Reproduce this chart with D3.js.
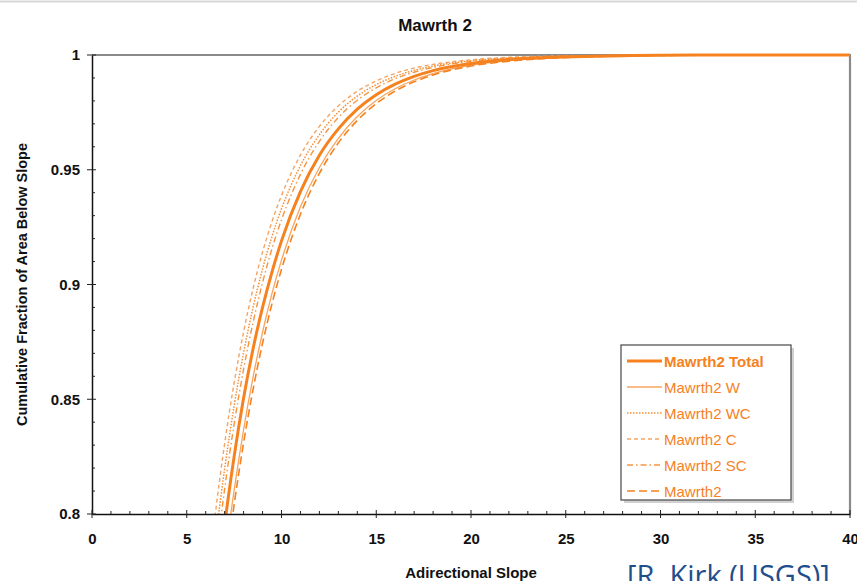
<!DOCTYPE html>
<html>
<head>
<meta charset="utf-8">
<script src="https://cdn.jsdelivr.net/npm/d3@7"></script>
<style>
  html, body { margin: 0; padding: 0; background: #fff; }
  svg { display: block; font-family: "Liberation Sans", Arial, sans-serif; }
</style>
</head>
<body>
<svg id="chart" width="857" height="581"></svg>
<script>
// Slope grid (degrees) at which the cumulative fractions are sampled
const slopes = [6, 6.5, 7, 7.5, 8, 8.5, 9, 9.5, 10, 11, 12, 13, 14, 15, 16, 17, 18, 20, 22, 24, 26, 28, 30, 35, 40];

// Cumulative fraction of area below each slope, per study area
const totalValues    = [0.7178, 0.758, 0.795, 0.8250, 0.8505, 0.872, 0.8900, 0.9055, 0.9190, 0.9405, 0.9563, 0.9678, 0.9764, 0.9827, 0.9873, 0.9907, 0.9932, 0.9963, 0.9980, 0.9989, 0.9994, 0.9997, 0.9999, 1.0, 1.0];
const wValues        = [0.705, 0.7436, 0.7795, 0.8103, 0.8368, 0.8596, 0.8792, 0.8961, 0.9106, 0.9339, 0.9510, 0.9637, 0.9732, 0.9802, 0.9853, 0.9891, 0.9919, 0.9956, 0.9976, 0.9987, 0.9993, 0.9996, 0.9998, 1.0, 1.0];
const wcValues       = [0.749, 0.7875, 0.8197, 0.8471, 0.8703, 0.8900, 0.9068, 0.9210, 0.9330, 0.9518, 0.9653, 0.9751, 0.9821, 0.9871, 0.9907, 0.9933, 0.9952, 0.9975, 0.9987, 0.9993, 0.9996, 0.9998, 0.9999, 1.0, 1.0];
const cValues        = [0.7625, 0.7995, 0.8307, 0.8571, 0.8794, 0.8982, 0.9141, 0.9275, 0.9388, 0.9564, 0.9689, 0.9778, 0.9842, 0.9887, 0.9920, 0.9943, 0.9959, 0.9979, 0.9990, 0.9995, 0.9997, 0.9999, 1.0, 1.0, 1.0];
const scValues       = [0.7387, 0.7777, 0.8109, 0.8391, 0.8631, 0.8835, 0.9008, 0.9157, 0.9282, 0.9480, 0.9624, 0.9728, 0.9803, 0.9857, 0.9897, 0.9925, 0.9946, 0.9972, 0.9985, 0.9992, 0.9996, 0.9998, 0.9999, 1.0, 1.0];
const mawrth2Values  = [0.697, 0.7363, 0.7728, 0.8041, 0.8310, 0.8543, 0.8744, 0.8917, 0.9066, 0.9306, 0.9484, 0.9617, 0.9715, 0.9788, 0.9843, 0.9883, 0.9913, 0.9952, 0.9973, 0.9985, 0.9992, 0.9996, 0.9998, 1.0, 1.0];

const seriesNames = ["Mawrth2 Total", "Mawrth2 W", "Mawrth2 WC", "Mawrth2 C", "Mawrth2 SC", "Mawrth2"];

// Axis ticks
const xTicks = [0, 5, 10, 15, 20, 25, 30, 35, 40];
const yTicks = [0.8, 0.85, 0.9, 0.95, 1];
const yTickLabels = ["0.8", "0.85", "0.9", "0.95", "1"];

const orange = "#f5821f";

const series = [
  { name: seriesNames[0], values: totalValues,   width: 3,   dash: null,        color: orange,    opacity: 1,    bold: true },
  { name: seriesNames[1], values: wValues,       width: 1.3, dash: null,        color: "#f8a45e", opacity: 1,    bold: false },
  { name: seriesNames[2], values: wcValues,      width: 1.5, dash: "1.5,1.5",   color: orange,    opacity: 0.9,  bold: false },
  { name: seriesNames[3], values: cValues,       width: 1.4, dash: "4,3",       color: "#f39a55", opacity: 0.9,  bold: false },
  { name: seriesNames[4], values: scValues,      width: 1.4, dash: "6,3,1.5,3", color: orange,    opacity: 0.85, bold: false },
  { name: seriesNames[5], values: mawrth2Values, width: 1.6, dash: "8,4",       color: orange,    opacity: 1,    bold: false }
];

const svg = d3.select("#chart");
const margin = { left: 92, right: 7, top: 55, bottom: 67 };
const W = 857, H = 581;

const x = d3.scaleLinear().domain([0, 40]).range([margin.left, W - margin.right]);
const y = d3.scaleLinear().domain([0.8, 1]).range([H - margin.bottom, margin.top]);

// faint border line at the very top of the page
svg.append("line").attr("x1", 0).attr("x2", W).attr("y1", 1.5).attr("y2", 1.5)
  .attr("stroke", "#d8d8d8").attr("stroke-width", 2);

// Title
svg.append("text").attr("x", 435).attr("y", 31).attr("text-anchor", "middle")
  .attr("font-size", 17).attr("font-weight", "bold").attr("fill", "#111")
  .text("Mawrth 2");

// Plot frame (top and right)
svg.append("path")
  .attr("d", `M${x(0)},${y(1)} H${x(40)} V${y(0.8)}`)
  .attr("fill", "none").attr("stroke", "#8a8a8a").attr("stroke-width", 2.2);

// Curves, clipped to the plot area
svg.append("clipPath").attr("id", "plotClip").append("rect")
  .attr("x", x(0)).attr("y", y(1) - 2).attr("width", x(40) - x(0)).attr("height", y(0.8) - y(1) + 2);

const line = d3.line()
  .x((d, i) => x(slopes[i]))
  .y(d => y(d))
  .curve(d3.curveMonotoneX);

const plot = svg.append("g").attr("clip-path", "url(#plotClip)");
// thin series first, total on top
[...series.slice(1), series[0]].forEach(s => {
  plot.append("path")
    .attr("d", line(s.values))
    .attr("fill", "none")
    .attr("stroke", s.color)
    .attr("stroke-opacity", s.opacity)
    .attr("stroke-width", s.width)
    .attr("stroke-dasharray", s.dash);
});

// Axes
const xAxis = d3.axisBottom(x).tickValues(xTicks).tickSize(0).tickPadding(19);
const gx = svg.append("g").attr("transform", `translate(0,${y(0.8)})`).call(xAxis);
gx.select(".domain").attr("stroke", "#111").attr("stroke-width", 1.5);
gx.selectAll("text").attr("font-size", 15).attr("font-weight", "bold").attr("fill", "#111")
  .attr("font-family", "Liberation Sans, Arial, sans-serif");

const yAxis = d3.axisLeft(y).tickValues(yTicks).tickFormat((d, i) => yTickLabels[i]).tickSize(0).tickPadding(12);
const gy = svg.append("g").attr("transform", `translate(${x(0)},0)`).call(yAxis);
gy.select(".domain").attr("stroke", "#111").attr("stroke-width", 1.5);
gy.selectAll("text").attr("font-size", 15).attr("font-weight", "bold").attr("fill", "#111")
  .attr("font-family", "Liberation Sans, Arial, sans-serif");

// Major and minor tick marks
const tickG = svg.append("g").attr("stroke", "#222").attr("stroke-width", 1);
d3.range(0, 41, 1).forEach(v => {
  const major = v % 5 === 0;
  tickG.append("line").attr("x1", x(v)).attr("x2", x(v))
    .attr("y1", y(0.8) + (major ? 4 : 0)).attr("y2", y(0.8) - (major ? 4 : 3));
});
d3.range(80, 101, 1).forEach(k => {
  const v = k / 100;
  const major = k % 5 === 0;
  tickG.append("line").attr("y1", y(v)).attr("y2", y(v))
    .attr("x1", x(0) - (major ? 5 : 0)).attr("x2", x(0) + (major ? 4 : 3));
});

// Axis titles
svg.append("text").attr("x", 471).attr("y", 578).attr("text-anchor", "middle")
  .attr("font-size", 15).attr("font-weight", "bold").attr("fill", "#111")
  .text("Adirectional Slope");
svg.append("text").attr("transform", `translate(27,${(y(0.8) + y(1)) / 2}) rotate(-90)`)
  .attr("text-anchor", "middle").attr("font-size", 14.5).attr("font-weight", "bold").attr("fill", "#111")
  .text("Cumulative Fraction of Area Below Slope");

// Legend
const lg = svg.append("g");
const lx = 621, ly = 345, lw = 170, lh = 155;
lg.append("rect").attr("x", lx + 3).attr("y", ly + 3).attr("width", lw).attr("height", lh)
  .attr("fill", "#999").attr("opacity", 0.45);
lg.append("rect").attr("x", lx).attr("y", ly).attr("width", lw).attr("height", lh)
  .attr("fill", "#fff").attr("stroke", "#555").attr("stroke-width", 1.3);
series.forEach((s, i) => {
  const yy = ly + 16 + i * 26;
  lg.append("line").attr("x1", lx + 6).attr("x2", lx + 41).attr("y1", yy).attr("y2", yy)
    .attr("stroke", s.color).attr("stroke-opacity", s.opacity)
    .attr("stroke-width", s.bold ? 3 : s.width).attr("stroke-dasharray", s.dash);
  lg.append("text").attr("x", lx + 43).attr("y", yy + 5.5)
    .attr("font-size", 15).attr("font-weight", s.bold ? "bold" : "normal")
    .attr("fill", orange).text(s.name);
});

// Credit line
svg.append("text").attr("x", 627).attr("y", 586)
  .attr("font-family", "Open Sans, Liberation Sans, sans-serif")
  .attr("font-size", 29).attr("fill", "#1f4e8c")
  .text("[R. Kirk (USGS)]");
</script>
</body>
</html>
